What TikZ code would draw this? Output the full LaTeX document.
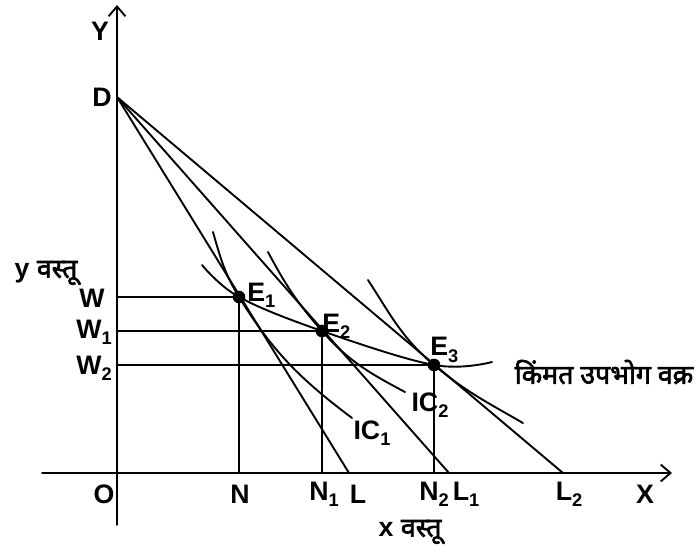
\documentclass[tikz,border=0pt]{standalone}
\usepackage{fontspec}
\setmainfont{Liberation Sans}
\newfontfamily\devfont[Script=Devanagari,AutoFakeBold=2.5]{Noto Sans}
\usetikzlibrary{arrows.meta}
\newcommand\sbs[1]{\raisebox{-0.45ex}{\fontsize{13}{15}\selectfont #1}}
\begin{document}
\begin{tikzpicture}[x=0.025cm,y=-0.025cm,line width=1.35pt,line join=round,line cap=round,
	font=\fontsize{19}{22}\selectfont\bfseries,
	lbl/.style={inner sep=1pt},
	dot/.style={circle,fill,inner sep=0pt,minimum size=9pt},
	axis/.style={-{Straight Barb[length=7pt,width=12pt,line width=1.35pt]}}]
	\useasboundingbox (0,0) rectangle (698,552);
	% truc toa do
	\coordinate (o) at (117,473);
	\coordinate (xl) at (42,473); \coordinate (xr) at (672,473);
	\coordinate (yb) at (117,525); \coordinate (yt) at (117,5);
	\draw[axis] (xl)--(xr);
	\draw[axis] (yb)--(yt);
	\coordinate (D) at (117,97);
	\coordinate (L) at (349,473);
	\coordinate (L1) at (449,473);
	\coordinate (L2) at (563,473);
	\node[dot] (E1) at (239,297) {};
	\node[dot] (E2) at (322,331) {};
	\node[dot] (E3) at (434,365) {};
	\coordinate (w) at (117,297); \coordinate (w1) at (117,331); \coordinate (w2) at (117,365);
	\coordinate (n) at (239,473); \coordinate (n1) at (322,473); \coordinate (n2) at (434,473);
	% duong ngan sach
	\draw (D)--(L); \draw (D)--(L1); \draw (D)--(L2);
	\draw (w)--(E1.center)--(n);
	\draw (w1)--(E2.center)--(n1);
	\draw (w2)--(E3.center)--(n2);
	% duong bang quan
	\coordinate (ic1a) at (213,232); \coordinate (ic1b) at (352,418);
	\coordinate (ic2a) at (268,252); \coordinate (ic2b) at (405,392);
	\coordinate (ic3a) at (368,280); \coordinate (ic3b) at (523,423);
	\draw (ic1a) to[out=-74,in=121.7] (E1.center) to[out=-58.3,in=143] (ic1b);
	\draw (ic2a) to[out=-62,in=131.4] (E2.center) to[out=-48.6,in=152] (ic2b);
	\draw (ic3a) to[out=-57,in=139.9] (E3.center) to[out=-40.1,in=150] (ic3b);
	% duong tieu dung gia
	\coordinate (pa) at (202,265); \coordinate (pb) at (492,362);
	\draw plot[smooth,tension=0.6] coordinates {(pa) (E1.center) (E2.center) (E3.center) (pb)};
	% nhan
	\node[lbl] (ly) at (100,31) {Y};
	\node[lbl] (ld) at (102,97) {D};
	\node[lbl] (lo) at (104,494) {O};
	\node[lbl] (lw) at (92,298) {W};
	\node[lbl] (lw1) at (94,332) {W\sbs{1}};
	\node[lbl] (lw2) at (94,368) {W\sbs{2}};
	\node[lbl] (lyv) at (46,273) {y {\devfont वस्तू}};
	\node[lbl,anchor=west] (le1) at (245,295) {E\sbs{1}};
	\node[lbl,anchor=west] (le2) at (320,326) {E\sbs{2}};
	\node[lbl,anchor=west] (le3) at (428,350) {E\sbs{3}};
	\node[lbl] (lic1) at (372,433) {IC\sbs{1}};
	\node[lbl] (lic2) at (430,405) {IC\sbs{2}};
	\node[lbl] (lpcc) at (604,372) {\devfont किंमत उपभोग वक्र};
	\node[lbl] (ln) at (240,494) {N};
	\node[lbl] (ln1) at (324,494) {N\sbs{1}};
	\node[lbl] (ll) at (358,494) {L};
	\node[lbl] (ln2) at (434,494) {N\sbs{2}};
	\node[lbl] (ll1) at (466,494) {L\sbs{1}};
	\node[lbl] (ll2) at (569,494) {L\sbs{2}};
	\node[lbl] (lx) at (645,494) {X};
	\node[lbl] (lxv) at (410,532) {x {\devfont वस्तू}};
\end{tikzpicture}
\end{document}
